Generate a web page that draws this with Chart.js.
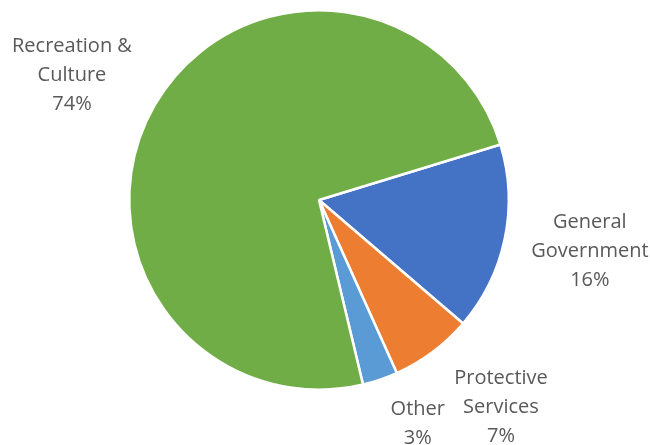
<!DOCTYPE html>
<html>
<head>
<meta charset="utf-8">
<script src="https://cdn.jsdelivr.net/npm/chart.js@4/dist/chart.umd.min.js"></script>
<style>
  html, body { margin: 0; padding: 0; background: #fff; }
  #wrap { width: 650px; height: 445px; }
</style>
</head>
<body>
<div id="wrap"><canvas id="pieChart" width="650" height="445"></canvas></div>
<script>
// Spending by category (percent)
const categories = ['General Government', 'Protective Services', 'Other', 'Recreation & Culture'];
const shares = [16, 7, 3, 74];
const labelLines = [['General', 'Government'], ['Protective', 'Services'], ['Other'], ['Recreation &', 'Culture']];
const sliceColors = ['#4472C4', '#ED7D31', '#5B9BD5', '#70AD47'];

// where each label sits: distance beyond the rim and angle nudge (deg)
const labelPlace = [
  { out: 86, turn: -1 },
  { out: 86, turn: -4.5 },
  { out: 55, turn: -5 },
  { out: 87, turn: -3 }
];

const outsideLabels = {
  id: 'outsideLabels',
  afterDatasetsDraw(chart) {
    const ctx = chart.ctx;
    const meta = chart.getDatasetMeta(0);
    ctx.save();
    ctx.font = '20px "Open Sans", sans-serif';
    ctx.fillStyle = '#595959';
    ctx.textAlign = 'center';
    ctx.textBaseline = 'middle';
    meta.data.forEach((arc, i) => {
      const p = labelPlace[i];
      const mid = (arc.startAngle + arc.endAngle) / 2 + p.turn * Math.PI / 180;
      const r = arc.outerRadius + p.out;
      const cx = arc.x + Math.cos(mid) * r;
      const cy = arc.y + Math.sin(mid) * r;
      const lines = labelLines[i].concat([shares[i] + '%']);
      const lh = 29;
      lines.forEach((t, k) => {
        ctx.fillText(t, cx, cy + (k - (lines.length - 1) / 2) * lh);
      });
    });
    ctx.restore();
  }
};

try {
  const ctx = document.getElementById('pieChart').getContext('2d');
  new Chart(ctx, {
    type: 'pie',
    data: {
      labels: categories,
      datasets: [{
        data: shares,
        backgroundColor: sliceColors,
        borderColor: '#ffffff',
        borderWidth: 2.5
      }]
    },
    options: {
      responsive: false,
      animation: false,
      rotation: 73,
      layout: { padding: { left: 128, right: 140, top: 9, bottom: 54 } },
      plugins: {
        legend: { display: false },
        tooltip: { enabled: false }
      }
    },
    plugins: [outsideLabels]
  });
} catch (e) {
  console.error('Chart initialization failed:', e);
}
</script>
</body>
</html>
